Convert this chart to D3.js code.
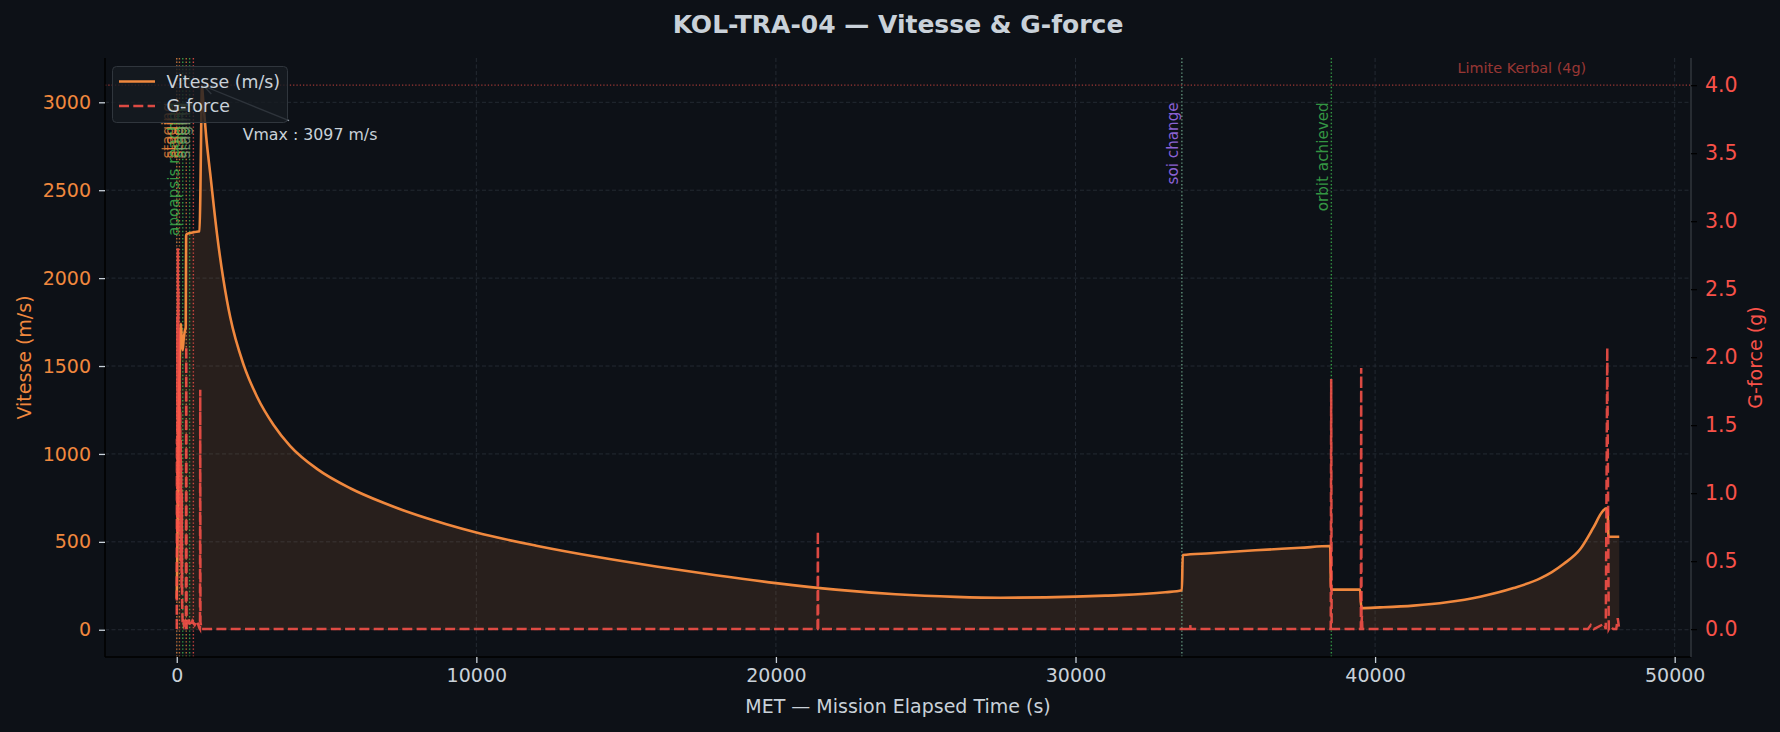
<!DOCTYPE html>
<html>
<head>
<meta charset="utf-8">
<script src="https://cdn.jsdelivr.net/npm/d3@7"></script>
<style>
  body { margin: 0; background: #0d1117; }
  svg { display: block; font-family: "DejaVu Sans", sans-serif; }
</style>
</head>
<body>
<svg id="chart" width="1780" height="732"></svg>
<script>
// Vitesse (m/s) over MET (s)
const metT = [
  0, 30, 70, 110, 140, 165, 195, 230, 270, 300,
  312, 330, 450, 600, 760, 790, 815, 840, 870, 920,
  985, 1118, 1342, 1676, 1786, 2230, 2676, 3232, 3788, 4680,
  5790, 6900, 7794, 9000, 10000, 12000, 14000, 16000, 18000, 20000,
  22000, 24000, 26000, 27500, 29000, 31000, 33000, 33550, 33580, 34500,
  36000, 37500, 38500, 38530, 39500, 39540, 40170, 41282, 42395, 43507,
  44620, 45510, 45900, 46288, 46850, 47290, 47570, 47714, 47760, 47790,
  48150
];
const vitesse = [
  176, 620, 1250, 1620, 1740, 1660, 1590, 1650, 1700, 1720,
  2240, 2250, 2256, 2262, 2266, 2500, 2850, 3097, 3040, 2930,
  2800, 2594, 2253, 1873, 1777, 1508, 1327, 1165, 1045, 915,
  805, 722, 665, 600, 553, 478, 415, 360, 310, 265,
  228, 202, 187, 182, 184, 194, 213, 225, 425, 435,
  452, 466, 476, 228, 228, 123, 127, 137, 156, 188,
  237, 292, 328, 374, 459, 582, 668, 691, 680, 529,
  529
];

// G-force (g) over MET (s)
const gT = [
  0, 6, 14, 22, 30, 38, 46, 54, 62, 70,
  78, 86, 94, 102, 110, 118, 126, 134, 142, 150,
  160, 170, 180, 195, 215, 240, 280, 305, 317, 329,
  360, 400, 450, 520, 600, 680, 750, 776, 784, 792,
  830, 21390, 21400, 21410, 33820, 33830, 33840, 38520, 38535, 38550,
  39525, 39536, 39547, 39560, 39575, 47100, 47200, 47300, 47650, 47700,
  47750, 47800, 47850, 47950, 48050, 48100, 48150
];
const gForce = [
  0, 1.4, 0.6, 2.3, 1.1, 2.8, 1.6, 2.5, 0.9, 2.2,
  1.3, 2.0, 0.7, 1.8, 1.2, 1.6, 0.5, 1.4, 0.9, 1.2,
  0.3, 1.0, 0.2, 0.05, 0.08, 0.03, 0.05, 0.0, 2.08, 0.0,
  0.04, 0.07, 0.02, 0.06, 0.03, 0.06, 0.01, 0.0, 1.76, 0.05,
  0.0, 0.0, 0.72, 0.0, 0.0, 0.03, 0.0, 0.0, 1.84, 0.0,
  0.0, 1.92, 0.0, 0.1, 0.0, 0.0, 0.03, 0.0, 0.04, 0.0,
  2.07, 0.0, 0.02, 0.0, 0.0, 0.08, 0.0
];

// mission events
const eventT = [0, 90, 200, 317, 430, 555, 33550, 38540];
const eventLabel = ['staging', 'staging', 'apoapsis reached', 'staging', 'staging', 'staging', 'soi change', 'orbit achieved'];
const eventKind = ['stage', 'stage', 'apo', 'stage', 'apo', 'sep', 'soi', 'orbit'];

const vMax = 3097;
const vMaxT = 840;
const gLimit = 4;

const xTicks = [0, 10000, 20000, 30000, 40000, 50000];
const vTicks = [0, 500, 1000, 1500, 2000, 2500, 3000];
const gTicks = [0, 0.5, 1.0, 1.5, 2.0, 2.5, 3.0, 3.5, 4.0];

// styles
const BG = '#0d1117';
const ORANGE = '#f0883e';
const RED = '#f85149';
const TXT = '#c9d1d9';
const GRID = '#262c35';
const kindStyle = {
  stage: { line: ORANGE, text: ORANGE, op: 0.75 },
  apo:   { line: '#3fb950', text: '#3fb950', op: 0.8 },
  sep:   { line: RED, text: '#8a9a78', op: 0.8 },
  soi:   { line: '#6fa88c', text: '#a371f7', op: 0.85 },
  orbit: { line: '#3fb950', text: '#3fb950', op: 0.8 }
};

const L = 105, R = 1691, T = 58, B = 657;

const svg = d3.select('#chart');
svg.append('rect').attr('width', 1780).attr('height', 732).attr('fill', BG);

const x = d3.scaleLinear().domain([-2395, 50545]).range([L, R]);
const yV = d3.scaleLinear().domain([-155, 3252]).range([B, T]);
const yG = d3.scaleLinear().domain([-0.205, 4.2]).range([B, T]);

// grid
const grid = svg.append('g');
grid.selectAll('.gx').data(xTicks).enter().append('line')
  .attr('x1', d => x(d)).attr('x2', d => x(d)).attr('y1', T).attr('y2', B)
  .attr('stroke', GRID).attr('stroke-width', 0.9).attr('stroke-dasharray', '4,2.5');
grid.selectAll('.gy').data(vTicks).enter().append('line')
  .attr('x1', L).attr('x2', R).attr('y1', d => yV(d)).attr('y2', d => yV(d))
  .attr('stroke', GRID).attr('stroke-width', 0.9).attr('stroke-dasharray', '4,2.5');

svg.append('clipPath').attr('id', 'plotclip')
  .append('rect').attr('x', L).attr('y', T).attr('width', R - L).attr('height', B - T);
const plot = svg.append('g').attr('clip-path', 'url(#plotclip)');

const vData = metT.map((t, i) => [t, vitesse[i]]);
const gData = gT.map((t, i) => [t, gForce[i]]);

// fill under velocity
plot.append('path').datum(vData)
  .attr('d', d3.area().x(d => x(d[0])).y0(yV(0)).y1(d => yV(d[1])).curve(d3.curveMonotoneX))
  .attr('fill', ORANGE).attr('fill-opacity', 0.12);

// event lines
eventT.forEach((t, i) => {
  const st = kindStyle[eventKind[i]];
  plot.append('line')
    .attr('x1', x(t)).attr('x2', x(t)).attr('y1', T).attr('y2', B)
    .attr('stroke', st.line).attr('stroke-opacity', st.op)
    .attr('stroke-width', 1.4).attr('stroke-dasharray', '1.4,2.2');
});

// velocity line
plot.append('path').datum(vData)
  .attr('d', d3.line().x(d => x(d[0])).y(d => yV(d[1])).curve(d3.curveMonotoneX))
  .attr('fill', 'none').attr('stroke', ORANGE).attr('stroke-width', 2.6)
  .attr('stroke-linejoin', 'round');

// event labels
eventT.forEach((t, i) => {
  const st = kindStyle[eventKind[i]];
  const lx = x(t) - 3.6, ly = yV(3000);
  plot.append('text')
    .attr('transform', `translate(${lx},${ly}) rotate(-90)`)
    .attr('text-anchor', 'end')
    .attr('font-size', 15.2)
    .attr('fill', st.text).attr('fill-opacity', st.op)
    .text(eventLabel[i]);
});

// g-force line (twin axis)
plot.append('path').datum(gData)
  .attr('d', d3.line().x(d => x(d[0])).y(d => yG(d[1])))
  .attr('fill', 'none').attr('stroke', RED).attr('stroke-opacity', 0.88)
  .attr('stroke-width', 2.5).attr('stroke-dasharray', '10,4.3');

// Kerbal limit
plot.append('line')
  .attr('x1', L).attr('x2', R).attr('y1', yG(gLimit)).attr('y2', yG(gLimit))
  .attr('stroke', RED).attr('stroke-opacity', 0.6).attr('stroke-width', 1.3)
  .attr('stroke-dasharray', '1.3,2');
svg.append('text')
  .attr('x', x(44900)).attr('y', 72.5).attr('text-anchor', 'middle')
  .attr('font-size', 14.4).attr('fill', RED).attr('fill-opacity', 0.6)
  .text('Limite Kerbal (4g)');

// spines
svg.append('line').attr('x1', L).attr('x2', L).attr('y1', T).attr('y2', B).attr('stroke', '#000').attr('stroke-width', 1.5);
svg.append('line').attr('x1', L).attr('x2', R).attr('y1', B).attr('y2', B).attr('stroke', '#000').attr('stroke-width', 1.5);
svg.append('line').attr('x1', R).attr('x2', R).attr('y1', T).attr('y2', B).attr('stroke', '#30363d').attr('stroke-width', 1.5);

// axes
const xAxis = svg.append('g').attr('transform', `translate(0,${B})`)
  .call(d3.axisBottom(x).tickValues(xTicks).tickFormat(d3.format('d')).tickSize(6).tickPadding(6));
xAxis.select('.domain').remove();
xAxis.selectAll('line').attr('stroke', TXT).attr('stroke-width', 1.3);
xAxis.selectAll('text').attr('fill', TXT).attr('font-size', 19).attr('font-family', 'DejaVu Sans');

const yAxisL = svg.append('g').attr('transform', `translate(${L},0)`)
  .call(d3.axisLeft(yV).tickValues(vTicks).tickFormat(d3.format('d')).tickSize(6).tickPadding(8));
yAxisL.select('.domain').remove();
yAxisL.selectAll('line').attr('stroke', TXT).attr('stroke-width', 1.3);
yAxisL.selectAll('text').attr('fill', ORANGE).attr('font-size', 19).attr('font-family', 'DejaVu Sans');

const yAxisR = svg.append('g').attr('transform', `translate(${R},0)`)
  .call(d3.axisRight(yG).tickValues(gTicks).tickFormat(d3.format('.1f')).tickSize(6).tickPadding(8));
yAxisR.select('.domain').remove();
yAxisR.selectAll('line').attr('stroke', '#000').attr('stroke-width', 1.3);
yAxisR.selectAll('text').attr('fill', RED).attr('font-size', 20.5).attr('font-family', 'DejaVu Sans');

// axis titles
svg.append('text').attr('x', (L + R) / 2).attr('y', 713).attr('text-anchor', 'middle')
  .attr('font-size', 19).attr('fill', TXT).text('MET — Mission Elapsed Time (s)');
svg.append('text').attr('transform', `translate(31,${(T + B) / 2}) rotate(-90)`).attr('text-anchor', 'middle')
  .attr('font-size', 19).attr('fill', ORANGE).text('Vitesse (m/s)');
svg.append('text').attr('transform', `translate(1762,${(T + B) / 2}) rotate(-90)`).attr('text-anchor', 'middle')
  .attr('font-size', 19).attr('fill', RED).text('G-force (g)');

// title
svg.append('text').attr('x', (L + R) / 2).attr('y', 33).attr('text-anchor', 'middle')
  .attr('font-size', 25).attr('font-weight', 'bold').attr('fill', TXT)
  .text('KOL-TRA-04 — Vitesse & G-force');

// Vmax annotation
const px = x(vMaxT), py = yV(vMax);
const note = svg.append('text').attr('x', x(2200)).attr('y', yV(vMax * 0.9))
  .attr('font-size', 15.8).attr('fill', TXT).text(`Vmax : ${vMax} m/s`);
const bb = note.node().getBBox();
const cx = bb.x + bb.width / 2, cy = bb.y + bb.height / 2;
const dx = px - cx, dy = py - cy;
const s = Math.min(Math.abs((bb.width / 2) / dx), Math.abs((bb.height / 2) / dy));
const sx = cx + dx * s, sy = cy + dy * s - 4;
const ang = Math.atan2(py - sy, px - sx);
const ex = px - Math.cos(ang) * 2, ey = py - Math.sin(ang) * 2;
const arrow = svg.append('g').attr('stroke', '#8b949e').attr('stroke-width', 1.3).attr('fill', 'none');
arrow.append('line').attr('x1', sx).attr('y1', sy).attr('x2', ex).attr('y2', ey);
const hl = 10, hw = 4.5;
[1, -1].forEach(k => {
  const bx = ex - Math.cos(ang) * hl - Math.sin(ang) * hw * k;
  const by = ey - Math.sin(ang) * hl + Math.cos(ang) * hw * k;
  arrow.append('line').attr('x1', ex).attr('y1', ey).attr('x2', bx).attr('y2', by);
});

// legend
const lg = svg.append('g');
lg.append('rect').attr('x', 112.5).attr('y', 66.5).attr('width', 175).attr('height', 56).attr('rx', 4)
  .attr('fill', '#161b22').attr('fill-opacity', 0.8).attr('stroke', '#30363d').attr('stroke-width', 1);
lg.append('line').attr('x1', 119).attr('x2', 155).attr('y1', 81.5).attr('y2', 81.5)
  .attr('stroke', ORANGE).attr('stroke-width', 2.6);
lg.append('line').attr('x1', 119).attr('x2', 155).attr('y1', 106).attr('y2', 106)
  .attr('stroke', RED).attr('stroke-opacity', 0.88).attr('stroke-width', 2.5).attr('stroke-dasharray', '10,4.3');
lg.append('text').attr('x', 166.5).attr('y', 87.5).attr('font-size', 17.4).attr('fill', TXT).text('Vitesse (m/s)');
lg.append('text').attr('x', 166.5).attr('y', 112).attr('font-size', 17.4).attr('fill', TXT).text('G-force');
</script>
</body>
</html>
